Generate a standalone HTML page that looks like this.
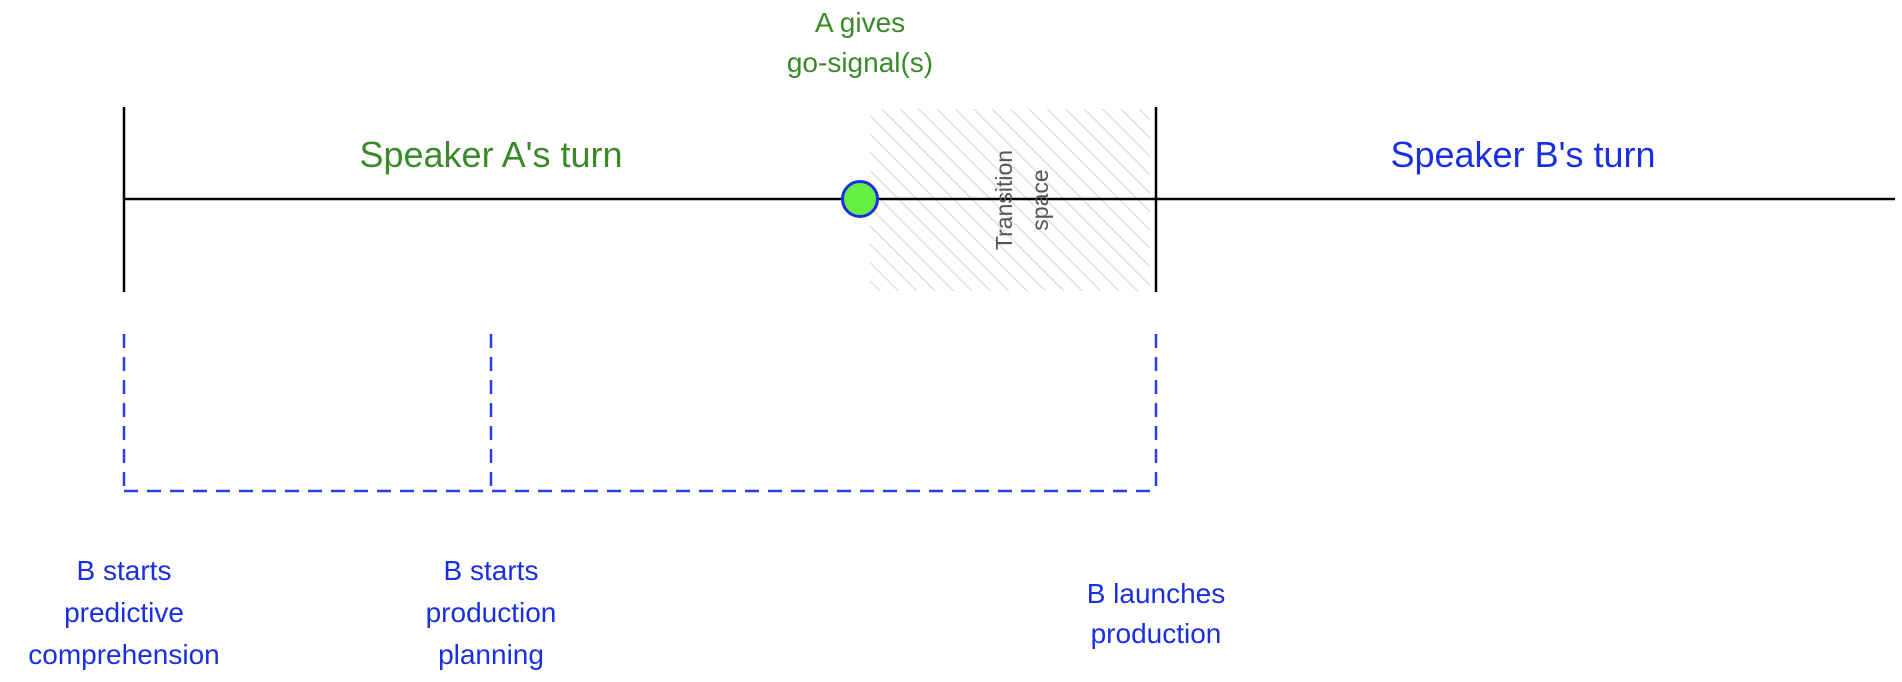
<!DOCTYPE html>
<html><head><meta charset="utf-8"><style>
html,body{margin:0;padding:0;background:#fff;}
svg{display:block;}
text{font-family:"Liberation Sans",sans-serif;}
</style></head><body>
<svg width="1902" height="682" viewBox="0 0 1902 682" xmlns="http://www.w3.org/2000/svg">
<defs>
<pattern id="h" patternUnits="userSpaceOnUse" width="13" height="13" patternTransform="rotate(-45)">
<rect width="13" height="13" fill="#fff"/>
<line x1="0" y1="0" x2="0" y2="13" stroke="#d4d4d4" stroke-width="2"/>
</pattern>
</defs>
<rect x="870" y="109" width="280" height="182" fill="url(#h)"/>
<line x1="124" y1="199" x2="1895" y2="199" stroke="#000" stroke-width="2.5"/>
<line x1="124" y1="107" x2="124" y2="292" stroke="#000" stroke-width="2.5"/>
<line x1="1156" y1="107" x2="1156" y2="292" stroke="#000" stroke-width="2.5"/>
<circle cx="860" cy="199" r="17.5" fill="#66ee44" stroke="#1a2fe0" stroke-width="3"/>
<text transform="translate(1012,200) rotate(-90)" text-anchor="middle" font-size="23" fill="#555">Transition</text>
<text transform="translate(1048,200) rotate(-90)" text-anchor="middle" font-size="23" fill="#555">space</text>
<g stroke="#2a3ee6" stroke-width="2.5" stroke-dasharray="14,9" fill="none">
<line x1="124" y1="334" x2="124" y2="491"/>
<line x1="491" y1="334" x2="491" y2="491"/>
<line x1="1156" y1="334" x2="1156" y2="491"/>
<line x1="124" y1="491" x2="1156" y2="491"/>
</g>
<g font-size="36" text-anchor="middle">
<text x="491" y="167" fill="#3a8a2a">Speaker A's turn</text>
<text x="1523" y="167" fill="#1a2fe0">Speaker B's turn</text>
</g>
<g font-size="28" text-anchor="middle" fill="#3a8a2a">
<text x="860" y="32">A gives</text>
<text x="860" y="72">go-signal(s)</text>
</g>
<g font-size="28" text-anchor="middle" fill="#1a2fe0">
<text x="124" y="580">B starts</text>
<text x="124" y="622">predictive</text>
<text x="124" y="664">comprehension</text>
<text x="491" y="580">B starts</text>
<text x="491" y="622">production</text>
<text x="491" y="664">planning</text>
<text x="1156" y="603">B launches</text>
<text x="1156" y="643">production</text>
</g>
</svg>
</body></html>
